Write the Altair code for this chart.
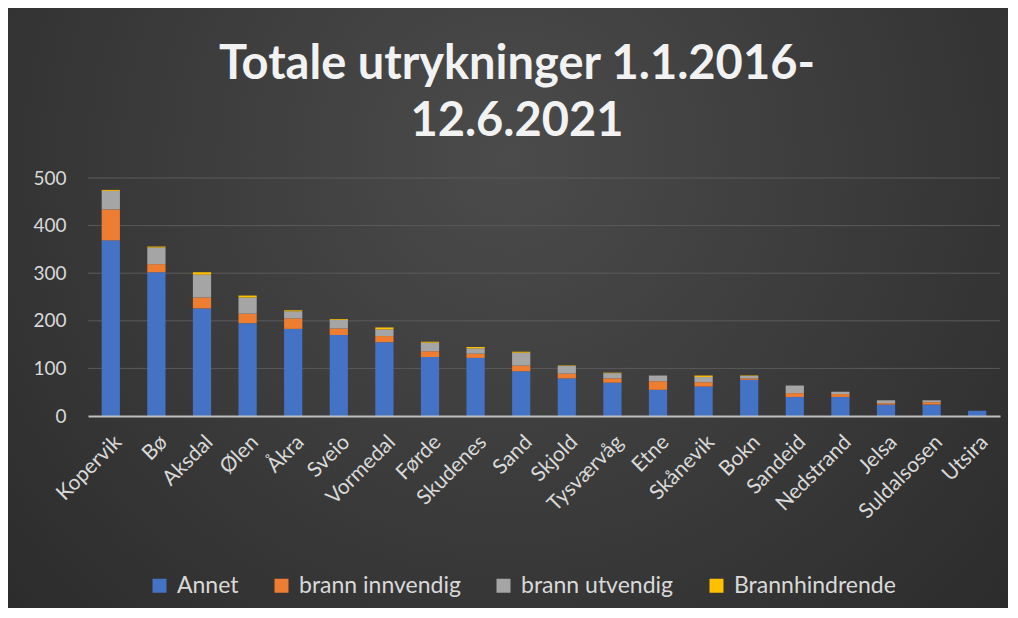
import altair as alt
import pandas as pd

kommuner = ["Kopervik", "Bø", "Aksdal", "Ølen", "Åkra", "Sveio", "Vormedal", "Førde",
            "Skudenes", "Sand", "Skjold", "Tysværvåg", "Etne", "Skånevik", "Bokn",
            "Sandeid", "Nedstrand", "Jelsa", "Suldalsosen", "Utsira"]
annet = [369, 302, 226, 195, 183, 170, 155, 124, 122, 94, 79, 70, 55, 62, 76, 40, 40, 24, 24, 11]
brann_innvendig = [65, 17, 23, 20, 22, 14, 13, 12, 9, 12, 10, 9, 18, 9, 3, 8, 6, 3, 5, 0]
brann_utvendig = [39, 35, 48, 34, 15, 18, 14, 18, 11, 27, 16, 11, 12, 11, 5, 16, 5, 6, 4, 0]
brannhindrende = [2, 2, 5, 4, 2, 2, 4, 2, 3, 2, 1, 1, 0, 3, 1, 0, 0, 0, 0, 0]

serier = ["Annet", "brann innvendig", "brann utvendig", "Brannhindrende"]
farger = ["#4472C4", "#ED7D31", "#A5A5A5", "#FFC000"]
y_ticks = [0, 100, 200, 300, 400, 500]

rows = []
for si, (navn, verdier) in enumerate(zip(serier, [annet, brann_innvendig, brann_utvendig, brannhindrende])):
    for k, v in zip(kommuner, verdier):
        rows.append({"Kommune": k, "Kategori": navn, "Antall": v, "rekkefolge": si})
df = pd.DataFrame(rows)

FONT = "Lato"
LABEL_COLOR = "#d9d9d9"

bg = alt.Chart(pd.DataFrame({"d": [0]})).mark_rect(
    fill=alt.RadialGradient(
        gradient="radial",
        x1=0.5, y1=0.35, r1=0,
        x2=0.5, y2=0.35, r2=0.8,
        stops=[alt.GradientStop(offset=0, color="#4b4b4b"),
               alt.GradientStop(offset=1, color="#262626")],
    ),
).encode(
    x=alt.value(-80), x2=alt.value(920), y=alt.value(-170), y2=alt.value(430)
)

grid = alt.Chart(pd.DataFrame({"t": y_ticks[1:]})).mark_rule(
    color="#5a5a5a", strokeWidth=1
).encode(
    y=alt.Y("t:Q", scale=alt.Scale(domain=[0, 500]))
)

bars = alt.Chart(df).mark_bar().encode(
    x=alt.X("Kommune:N", sort=kommuner,
            scale=alt.Scale(paddingInner=0.6, paddingOuter=0.3),
            axis=alt.Axis(title=None, labelAngle=-45, labelFontSize=21, labelColor=LABEL_COLOR,
                          labelFont=FONT, ticks=False, domainColor="#bfbfbf", domainWidth=2,
                          labelPadding=15, zindex=1)),
    y=alt.Y("Antall:Q", stack="zero", scale=alt.Scale(domain=[0, 500]),
            axis=alt.Axis(title=None, values=y_ticks, grid=False, domain=False, ticks=False,
                          labelFontSize=19, labelColor=LABEL_COLOR, labelFont=FONT,
                          labelPadding=22, zindex=1)),
    color=alt.Color("Kategori:N", sort=serier,
                    scale=alt.Scale(domain=serier, range=farger),
                    legend=alt.Legend(title=None, orient="none", direction="horizontal",
                                      legendX=60, legendY=396, symbolType="square",
                                      symbolSize=196, symbolStrokeWidth=0,
                                      labelFontSize=23, labelColor=LABEL_COLOR, labelFont=FONT,
                                      labelLimit=0, columnPadding=31, labelOffset=6, zindex=1)),
    order=alt.Order("rekkefolge:Q", sort="ascending"),
)

chart = alt.layer(bg, grid, bars).properties(
    width=912,
    height=238,
    padding={"left": 80, "top": 170, "right": 8, "bottom": 192},
    autosize=alt.AutoSizeParams(type="none"),
    background="#2e2e2e",
    title=alt.TitleParams(
        text=["Totale utrykninger 1.1.2016-", "12.6.2021"],
        font=FONT, fontSize=47, fontWeight="bold", color="#f2f2f2",
        lineHeight=57, anchor="middle", dx=-27, dy=138, offset=0, zindex=1,
    ),
).configure_view(stroke=None)

chart.save("out.html", embed_options={"renderer": "svg", "actions": False})
